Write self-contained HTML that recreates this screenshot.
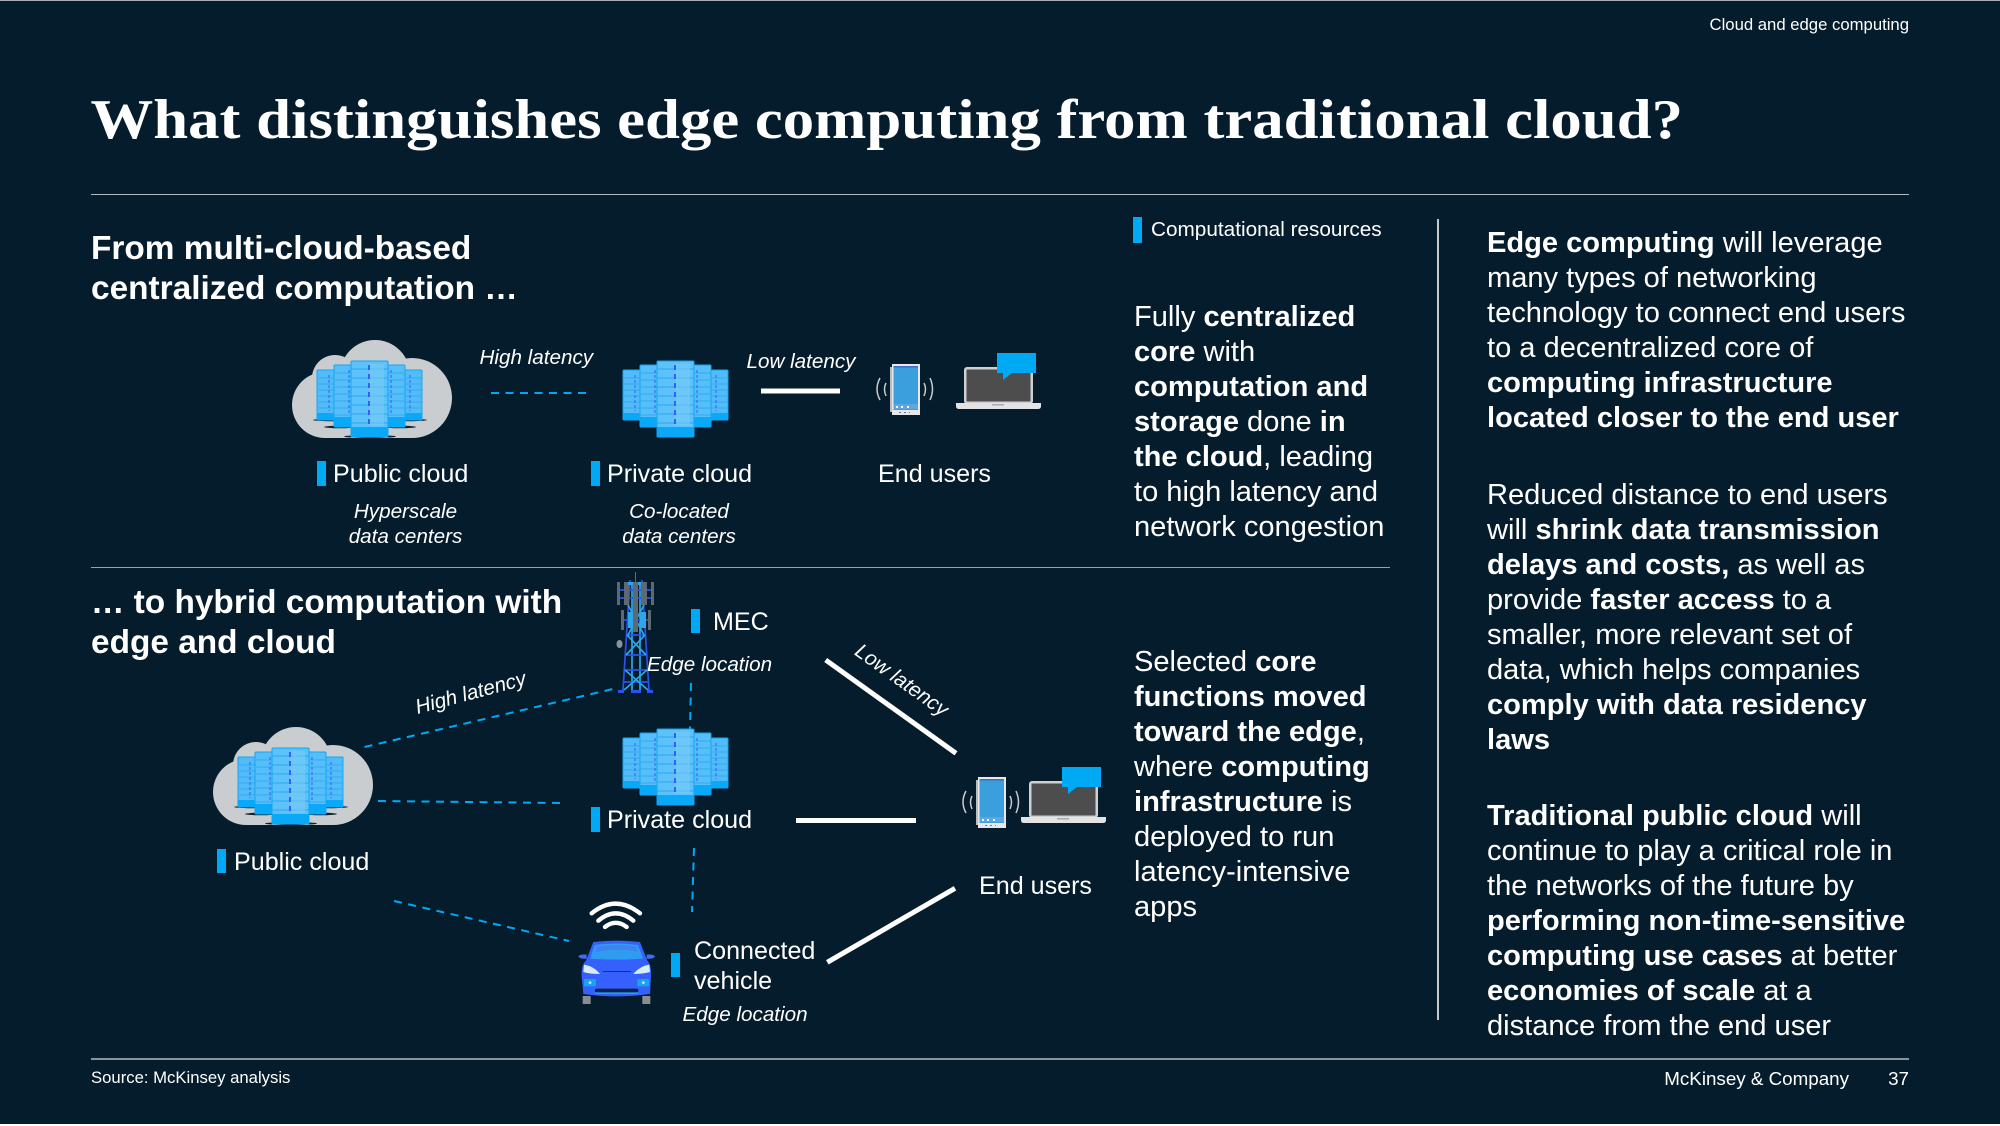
<!DOCTYPE html>
<html><head><meta charset="utf-8"><title>Edge computing</title>
<style>
html,body{margin:0;padding:0;background:#051c2c;width:2000px;height:1126px;overflow:hidden}
svg{display:block}
text{font-family:"Liberation Sans",Arial,sans-serif;fill:#fff}
.b{font-size:29.07px}
.l{font-size:25.1px}
.i{font-size:20.65px;font-style:italic}
.h{font-size:33.4px;font-weight:bold}
tspan.s{font-weight:bold}
.d{stroke:#00a9f4;stroke-width:2;stroke-dasharray:8 6.5;fill:none}
.w{stroke:#fff;stroke-width:5;fill:none}
.m{fill:#00a9f4}
</style></head><body>
<svg xmlns="http://www.w3.org/2000/svg" width="2000" height="1126" viewBox="0 0 2000 1126">
<defs>
<g id="rowsC"><path d="M0 8H37M0 17H37M0 26H37M0 35H37M0 44H37M0 53H37M0 62H37" stroke="#2aa8ee" stroke-width="1"/></g>
<g id="srv">
  <g>
    <rect x="0" y="9" width="105" height="50" rx="1" fill="#52bcf8" stroke="#14a6f4"/>
    <rect x="0" y="52" width="105" height="7" fill="#0aa9f8"/>
    <path d="M1 17H104M1 23H104M1 29H104M1 35H104M1 41H104M1 47H104" stroke="#36aaee" stroke-width="1"/>
    <path d="M12 14V50M93 14V50" stroke="#3b5bff" stroke-width="1" stroke-dasharray="3 2"/>
  </g>
  <g>
    <rect x="17" y="4" width="71" height="62" rx="1" fill="#56bff9" stroke="#14a6f4"/>
    <rect x="17" y="56" width="71" height="10" fill="#0aa9f8"/>
    <path d="M18 12H87M18 19H87M18 26H87M18 33H87M18 40H87M18 47H87M18 54H87" stroke="#36aaee" stroke-width="1"/>
    <path d="M32 9V54M74 9V54" stroke="#3b5bff" stroke-width="1" stroke-dasharray="3 2"/>
  </g>
  <g transform="translate(34,0)">
    <rect x="0" y="0" width="37" height="76" rx="1" fill="#5cc2f9" stroke="#12a5f4"/>
    <rect x="0" y="66" width="37" height="10" fill="#0aa9f8"/>
    <use href="#rowsC"/>
    <rect x="18" y="3" width="15" height="62" fill="#78ccf6" opacity=".6"/>
    <path d="M18 4V64" stroke="#3b5bff" stroke-width="2" stroke-dasharray="5 4"/>
  </g>
</g>
<g id="cloud">
  <g fill="#c9cdd0">
    <circle cx="375" cy="375" r="35"/>
    <circle cx="335" cy="378" r="23"/>
    <circle cx="325" cy="405" r="33"/>
    <circle cx="412" cy="398" r="40"/>
    <rect x="325" y="375" width="87" height="63"/>
  </g>
  <g fill="#10222f">
    <ellipse cx="335" cy="420" rx="22" ry="1.3"/>
    <ellipse cx="405" cy="420" rx="22" ry="1.3"/>
    <ellipse cx="340" cy="427" rx="16" ry="1.3"/>
    <ellipse cx="400" cy="427" rx="16" ry="1.3"/>
    <ellipse cx="370" cy="436.5" rx="26" ry="1.5"/>
  </g>
  <use href="#srv" transform="translate(317,361)"/>
</g>
<g id="phone">
  <path d="M880 378Q874 389 880 400M886 383Q883 389 886 396M930 378Q935 389 930 400M924 383Q927 389 924 396" stroke="#c8ccd0" stroke-width="1.5" fill="none"/>
  <rect x="890" y="367" width="4" height="45" fill="#b8bcc0"/>
  <rect x="892" y="364" width="28" height="51" fill="#e8e8e8"/>
  <rect x="893.5" y="366" width="24.5" height="44" fill="#3a9fdc"/>
  <rect x="893.5" y="366" width="24.5" height="1.5" fill="#3f6cc4"/>
  <rect x="893.5" y="404" width="24.5" height="5" fill="#5fa6de"/>
  <path d="M896 406h2v2h-2zM901 406h2v2h-2zM907 406h2v2h-2z" fill="#fff"/>
  <path d="M899 412h2v1h-2zM904 412h2v1h-2zM909 412h1v1h-1z" fill="#5b75b5"/>
</g>
<g id="laptop">
  <rect x="964" y="367" width="69" height="37" rx="3" fill="#d0d0d0"/>
  <rect x="966.5" y="369.5" width="64" height="32" fill="#4d4d4d"/>
  <path d="M956 403H1041V406Q1041 409 1038 409H959Q956 409 956 406Z" fill="#e3e3e3"/>
  <rect x="992" y="404" width="12" height="1.5" fill="#aaa"/>
  <path d="M997 353H1036V373H1012L1003 380V373H997Z" fill="#00a9f4"/>
</g>
</defs>

<rect x="0" y="0" width="2000" height="1126" fill="#051c2c"/>
<rect x="0" y="0" width="2000" height="1" fill="#a8aeb3"/>
<rect x="0" y="1124" width="2000" height="2" fill="#fff"/>

<text x="1909" y="30" text-anchor="end" font-size="16.7">Cloud and edge computing</text>
<text x="90.500" y="138" style="font-family:'Liberation Serif',serif;font-weight:bold;font-size:56px" textLength="1592.500" lengthAdjust="spacingAndGlyphs">What distinguishes edge computing from traditional cloud?</text>
<rect x="91" y="194" width="1818" height="1" fill="#b4b9bd"/>

<text class="h" x="91" y="259">From multi-cloud-based</text>
<text class="h" x="91" y="299">centralized computation …</text>

<!-- top diagram -->
<use href="#cloud"/>
<use href="#srv" transform="translate(623,361)"/>
<text class="i" x="479.500" y="364">High latency</text>
<line class="d" x1="491" y1="393" x2="587" y2="393"/>
<text class="i" x="746.500" y="368">Low latency</text>
<line class="w" x1="761" y1="391" x2="840" y2="391"/>
<use href="#phone"/>
<use href="#laptop"/>

<rect class="m" x="317" y="461" width="9" height="25"/>
<text class="l" x="333" y="482">Public cloud</text>
<rect class="m" x="591" y="461" width="9" height="25"/>
<text class="l" x="607" y="482">Private cloud</text>
<text class="l" x="878" y="482">End users</text>
<text class="i" x="405.500" y="518" text-anchor="middle">Hyperscale</text>
<text class="i" x="405.500" y="543" text-anchor="middle">data centers</text>
<text class="i" x="679" y="518" text-anchor="middle">Co-located</text>
<text class="i" x="679" y="543" text-anchor="middle">data centers</text>

<rect class="m" x="1133" y="217" width="9" height="26"/>
<text x="1151" y="236" font-size="20.75">Computational resources</text>

<text class="b" x="1134" y="326">Fully <tspan class="s">centralized</tspan></text>
<text class="b" x="1134" y="361"><tspan class="s">core</tspan> with</text>
<text class="b" x="1134" y="396"><tspan class="s">computation and</tspan></text>
<text class="b" x="1134" y="431"><tspan class="s">storage</tspan> done <tspan class="s">in</tspan></text>
<text class="b" x="1134" y="466"><tspan class="s">the cloud</tspan>, leading</text>
<text class="b" x="1134" y="501">to high latency and</text>
<text class="b" x="1134" y="536">network congestion</text>

<rect x="91" y="567" width="1299" height="1" fill="#9aa2a8"/>

<text class="h" x="91" y="613">… to hybrid computation with</text>
<text class="h" x="91" y="653">edge and cloud</text>

<!-- bottom diagram -->
<use href="#cloud" transform="translate(-79,387)"/>
<use href="#srv" transform="translate(623,729)"/>

<!-- tower -->
<g>
  <g stroke="#2a52f0" stroke-width="1.7" fill="none">
    <path d="M623 690L630 580M649 690L642 580"/>
    <path d="M632 690V585M640 690V585" stroke="#29a9e8"/>
    <path d="M626 655H646M627 635H645M625 670H647M624 682H648M628 620H644M620 590H652M620 598H652M623 620H648"/>
    <path d="M627 635L646 655M645 635L626 655M625 670L648 690M647 670L624 690M628 605L644 635M644 605L628 635" stroke="#29a9e8"/>
  </g>
  <g fill="#5d6a75">
    <rect x="617" y="582" width="3" height="23"/>
    <rect x="624" y="582" width="5" height="23"/>
    <rect x="633" y="582" width="5" height="28"/>
    <rect x="641" y="582" width="6" height="23"/>
    <rect x="651" y="582" width="3" height="23"/>
    <rect x="621" y="610" width="3" height="20"/>
    <rect x="633" y="610" width="5" height="22"/>
    <rect x="648" y="610" width="3" height="20"/>
    <rect x="635" y="572" width="1" height="10"/>
  </g>
  <g fill="#2fa6ea">
    <rect x="628" y="582" width="5" height="3"/>
    <rect x="638" y="582" width="3" height="3"/>
    <rect x="628" y="612" width="5" height="16"/>
    <rect x="640" y="612" width="6" height="16"/>
  </g>
  <ellipse cx="619.500" cy="644" rx="3" ry="4" fill="#8d9296"/>
  <g fill="#2a52f0">
    <rect x="618" y="690" width="6" height="3"/>
    <rect x="631" y="690" width="10" height="3"/>
    <rect x="647" y="690" width="6" height="3"/>
  </g>
</g>

<rect class="m" x="691" y="609" width="9" height="24"/>
<text class="l" x="713" y="630">MEC</text>
<text class="i" x="647" y="671">Edge location</text>

<line class="d" x1="691" y1="683" x2="690" y2="729"/>
<line class="d" x1="694" y1="848" x2="692" y2="912"/>
<line class="d" x1="364.500" y1="747" x2="613" y2="689"/>
<line class="d" x1="378" y1="801" x2="562" y2="803"/>
<line class="d" x1="394" y1="901" x2="569" y2="941"/>

<text class="i" transform="translate(417.500,714) rotate(-15)">High latency</text>
<text class="i" transform="translate(853.500,654) rotate(35.500)">Low latency</text>

<line class="w" x1="825.700" y1="660" x2="956" y2="753.300"/>
<line class="w" x1="796" y1="820.500" x2="916" y2="820.500"/>
<line class="w" x1="827.300" y1="962.300" x2="955" y2="888.300"/>

<use href="#phone" transform="translate(86,413)"/>
<use href="#laptop" transform="translate(65,414)"/>
<text class="l" x="979" y="894">End users</text>

<rect class="m" x="591" y="807" width="9" height="25"/>
<text class="l" x="607" y="828">Private cloud</text>
<rect class="m" x="217" y="849" width="9" height="24"/>
<text class="l" x="234" y="870">Public cloud</text>

<!-- car -->
<g transform="translate(560,890) scale(.33333)">
  <path d="M95 70Q167 12 240 70M115 92Q167 48 220 92M135 111Q167 86 200 111" stroke="#fff" stroke-width="13" stroke-linecap="round" fill="none"/>
  <rect x="68" y="318" width="24" height="24" fill="#8a8d90"/>
  <rect x="247" y="318" width="24" height="24" fill="#8a8d90"/>
  <path d="M55 199Q60 192 80 194L80 206Q60 208 55 199ZM285 199Q280 192 260 194L260 206Q280 208 285 199Z" fill="#3f6cf5"/>
  <path d="M100 156Q170 148 240 156L262 212Q275 225 273 260L270 312Q170 326 70 312L65 260Q63 225 78 212Z" fill="#3560fb"/>
  <path d="M104 165Q170 156 234 165L250 206Q170 212 90 206Z" fill="#2e9cf0"/>
  <path d="M110 170Q170 160 228 170L232 185Q170 172 105 187Z" fill="#3f82f0"/>
  <path d="M72 224Q100 228 120 252Q90 252 70 246Z" fill="#d8ecfb"/>
  <path d="M268 224Q240 228 220 252Q250 252 270 246Z" fill="#d8ecfb"/>
  <rect x="128" y="243" width="85" height="3" fill="#16307a"/>
  <rect x="72" y="267" width="36" height="22" rx="4" fill="#1aa3ef"/>
  <rect x="232" y="267" width="36" height="22" rx="4" fill="#1aa3ef"/>
  <circle cx="90" cy="278" r="4" fill="#cfeaff"/>
  <circle cx="250" cy="278" r="4" fill="#cfeaff"/>
  <rect x="105" y="296" width="130" height="12" rx="5" fill="#10234f"/>
  <rect x="105" y="307" width="130" height="5" fill="#1aa3ef"/>
</g>
<rect class="m" x="671" y="953" width="9" height="24"/>
<text class="l" x="694" y="959">Connected</text>
<text class="l" x="694" y="989">vehicle</text>
<text class="i" x="682.500" y="1021">Edge location</text>

<text class="b" x="1134" y="671">Selected <tspan class="s">core</tspan></text>
<text class="b" x="1134" y="706"><tspan class="s">functions moved</tspan></text>
<text class="b" x="1134" y="741"><tspan class="s">toward the edge</tspan>,</text>
<text class="b" x="1134" y="776">where <tspan class="s">computing</tspan></text>
<text class="b" x="1134" y="811"><tspan class="s">infrastructure</tspan> is</text>
<text class="b" x="1134" y="846">deployed to run</text>
<text class="b" x="1134" y="881">latency-intensive</text>
<text class="b" x="1134" y="916">apps</text>

<rect x="1437" y="219" width="2" height="801" fill="#c5c9cc"/>

<text class="b" x="1487" y="252"><tspan class="s">Edge computing</tspan> will leverage</text>
<text class="b" x="1487" y="287">many types of networking</text>
<text class="b" x="1487" y="322">technology to connect end users</text>
<text class="b" x="1487" y="357">to a decentralized core of</text>
<text class="b" x="1487" y="392"><tspan class="s">computing infrastructure</tspan></text>
<text class="b" x="1487" y="427"><tspan class="s">located closer to the end user</tspan></text>

<text class="b" x="1487" y="504">Reduced distance to end users</text>
<text class="b" x="1487" y="539">will <tspan class="s">shrink data transmission</tspan></text>
<text class="b" x="1487" y="574"><tspan class="s">delays and costs,</tspan> as well as</text>
<text class="b" x="1487" y="609">provide <tspan class="s">faster access</tspan> to a</text>
<text class="b" x="1487" y="644">smaller, more relevant set of</text>
<text class="b" x="1487" y="679">data, which helps companies</text>
<text class="b" x="1487" y="714"><tspan class="s">comply with data residency</tspan></text>
<text class="b" x="1487" y="749"><tspan class="s">laws</tspan></text>

<text class="b" x="1487" y="825"><tspan class="s">Traditional public cloud</tspan> will</text>
<text class="b" x="1487" y="860">continue to play a critical role in</text>
<text class="b" x="1487" y="895">the networks of the future by</text>
<text class="b" x="1487" y="930"><tspan class="s">performing non-time-sensitive</tspan></text>
<text class="b" x="1487" y="965"><tspan class="s">computing use cases</tspan> at better</text>
<text class="b" x="1487" y="1000"><tspan class="s">economies of scale</tspan> at a</text>
<text class="b" x="1487" y="1035">distance from the end user</text>

<rect x="91" y="1058" width="1818" height="2" fill="#8b949a"/>
<text x="91" y="1083" font-size="16.7">Source: McKinsey analysis</text>
<text x="1849" y="1085" text-anchor="end" font-size="18.8">McKinsey &amp; Company</text>
<text x="1909" y="1085" text-anchor="end" font-size="18.8">37</text>
</svg>
</body></html>
